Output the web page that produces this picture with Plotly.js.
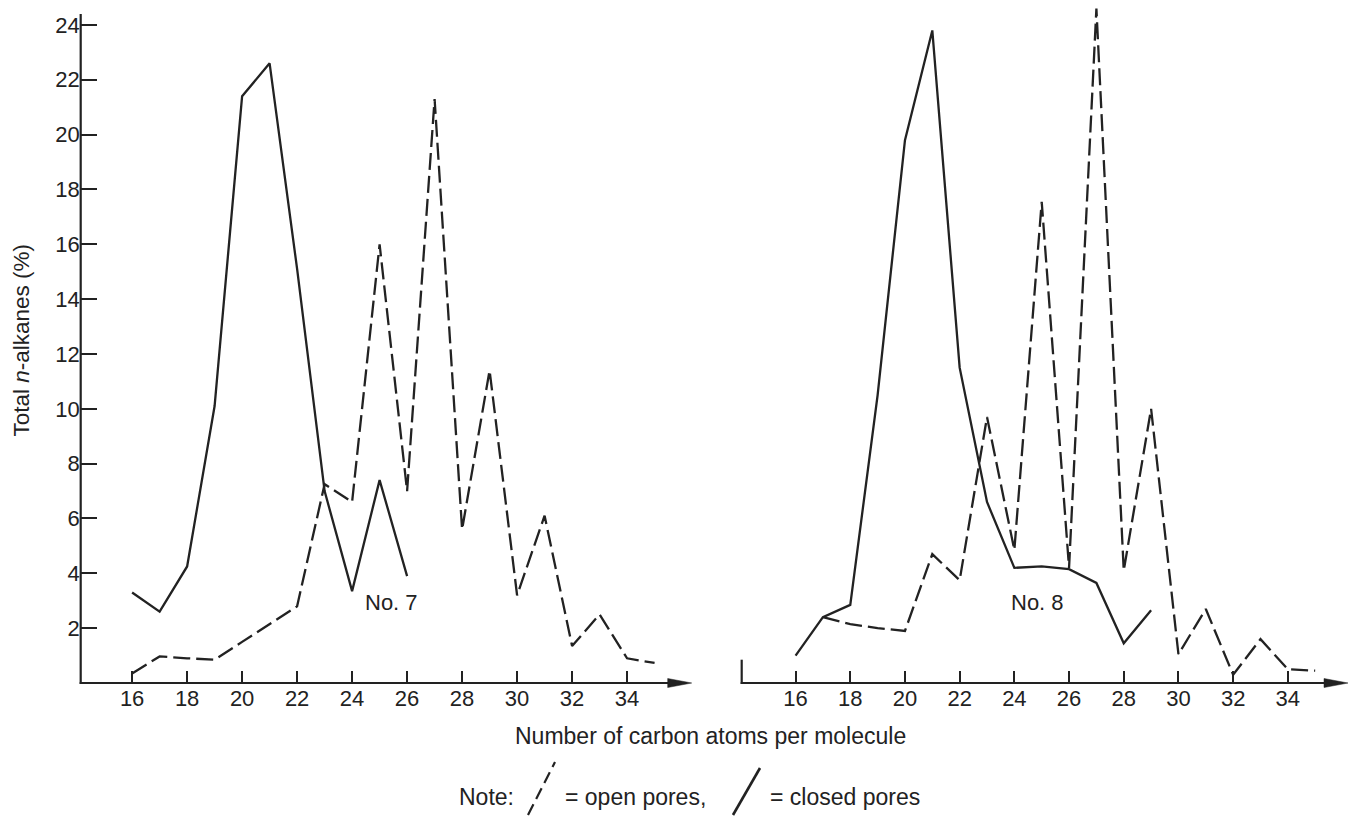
<!DOCTYPE html>
<html>
<head>
<meta charset="utf-8">
<script src="https://cdn.plot.ly/plotly-3.0.1.min.js"></script>
<style>html,body{margin:0;padding:0;background:#fff;}#chart{width:1353px;height:816px;}</style>
</head>
<body>
<div id="chart"></div>
<script>
// ---- data ----
const carbon7Closed = [16, 17, 18, 19, 20, 21, 22, 23, 24, 25, 26];
const pct7Closed    = [3.3, 2.6, 4.25, 10.1, 21.4, 22.6, 15.1, 7.0, 3.35, 7.4, 3.9];
const carbon7Open   = [16, 17, 18, 19, 20, 21, 22, 23, 24, 25, 26, 27, 28, 29, 30, 31, 32, 33, 34, 35];
const pct7Open      = [0.35, 0.97, 0.9, 0.85, 1.5, 2.15, 2.8, 7.25, 6.6, 16.0, 7.0, 21.3, 5.6, 11.4, 3.2, 6.1, 1.35, 2.5, 0.9, 0.73];

const carbon8Closed = [16, 17, 18, 19, 20, 21, 22, 23, 24, 25, 26, 27, 28, 29];
const pct8Closed    = [1.0, 2.4, 2.85, 10.5, 19.8, 23.8, 11.5, 6.6, 4.2, 4.25, 4.15, 3.65, 1.45, 2.65];
const carbon8Open   = [17, 18, 19, 20, 21, 22, 23, 24, 25, 26, 27, 28, 29, 30, 31, 32, 33, 34, 35];
const pct8Open      = [2.4, 2.15, 2.0, 1.9, 4.7, 3.75, 9.7, 4.85, 17.55, 4.2, 24.6, 4.1, 10.0, 1.05, 2.7, 0.3, 1.6, 0.5, 0.45];

const xTickVals = [16, 18, 20, 22, 24, 26, 28, 30, 32, 34];
const xTickText = ['16', '18', '20', '22', '24', '26', '28', '30', '32', '34'];
const yTickVals = [2, 4, 6, 8, 10, 12, 14, 16, 18, 20, 22, 24];
const yTickText = ['2', '4', '6', '8', '10', '12', '14', '16', '18', '20', '22', '24'];

const sampleLabels = ['No. 7', 'No. 8'];
const xTitle = 'Number of carbon atoms per molecule';
const yTitle = 'Total <i>n</i>-alkanes (%)';
const noteTexts = ['Note:', '= open pores,', '= closed pores'];

// ---- styling / layout ----
const W = 1353, H = 816;
const INK = '#222222';
const FONT = 'Liberation Sans, Arial, sans-serif';
const px = v => v / W;
const py = v => 1 - v / H;

// plot-area geometry in pixels
const LEFT_PX = [80.7, 691.7], RIGHT_PX = [741.7, 1348];
const BASE_PX = 683, TOP_PX = 3;
const X1 = [14.13, 36.35], X2 = [14.03, 36.2];
const YR = [0, 24.8];
const yPx = v => BASE_PX - (v - YR[0]) * (BASE_PX - TOP_PX) / (YR[1] - YR[0]);

const solid = {color: INK, width: 2.3};
const dashed = {color: INK, width: 2.3, dash: '17px,6px'};

const traces = [
  {x: carbon7Closed, y: pct7Closed, xaxis: 'x', yaxis: 'y', mode: 'lines', line: solid, cliponaxis: false},
  {x: carbon7Open, y: pct7Open, xaxis: 'x', yaxis: 'y', mode: 'lines', line: dashed, cliponaxis: false},
  {x: carbon8Closed, y: pct8Closed, xaxis: 'x2', yaxis: 'y2', mode: 'lines', line: solid, cliponaxis: false},
  {x: carbon8Open, y: pct8Open, xaxis: 'x2', yaxis: 'y2', mode: 'lines', line: dashed, cliponaxis: false}
];

const xCommon = {
  showgrid: false, zeroline: false, showline: false,
  ticks: 'inside', ticklen: 12, tickwidth: 2, tickcolor: INK,
  tickvals: xTickVals, ticktext: xTickText,
  tickfont: {family: FONT, size: 22, color: INK}, fixedrange: true
};
const yCommon = {
  range: YR, showgrid: false, zeroline: false, showline: false,
  domain: [py(BASE_PX), py(TOP_PX)], fixedrange: true
};

// axis decorations (drawn in paper coordinates so they are not clipped)
function axisShapes(xPx, yTopVal) {
  const x0 = xPx[0], tip = xPx[1];
  const s = [];
  s.push({type: 'line', xref: 'paper', yref: 'paper', x0: px(x0), x1: px(x0), y0: py(BASE_PX + 1), y1: py(yPx(yTopVal)),
          line: {color: INK, width: 2.2}});
  s.push({type: 'line', xref: 'paper', yref: 'paper', x0: px(x0 - 1), x1: px(tip - 12), y0: py(BASE_PX), y1: py(BASE_PX),
          line: {color: INK, width: 2.2}});
  s.push({type: 'path', xref: 'paper', yref: 'paper',
          path: 'M' + px(tip) + ',' + py(BASE_PX) + ' L' + px(tip - 24) + ',' + py(BASE_PX - 4.5) +
                ' L' + px(tip - 24) + ',' + py(BASE_PX + 4.5) + ' Z',
          fillcolor: INK, line: {color: INK, width: 0.5}});
  return s;
}

const shapes = [].concat(
  axisShapes(LEFT_PX, 24.4),
  axisShapes(RIGHT_PX, 0.85),
  [
    {type: 'line', xref: 'paper', yref: 'paper', x0: px(528), y0: py(815), x1: px(555), y1: py(762),
     line: {color: INK, width: 2.2, dash: '12px,6px'}},
    {type: 'line', xref: 'paper', yref: 'paper', x0: px(733), y0: py(815), x1: px(760), y1: py(768),
     line: {color: INK, width: 2.6}}
  ]
);

const TF = {family: FONT, size: 23, color: INK};

const layout = {
  width: W, height: H,
  margin: {l: 0, r: 0, t: 0, b: 0},
  paper_bgcolor: '#ffffff', plot_bgcolor: 'rgba(0,0,0,0)',
  showlegend: false,
  font: {family: FONT, color: INK},
  xaxis: Object.assign({}, xCommon, {range: X1, domain: [px(LEFT_PX[0]), px(LEFT_PX[1])], anchor: 'y'}),
  xaxis2: Object.assign({}, xCommon, {range: X2, domain: [px(RIGHT_PX[0]), px(RIGHT_PX[1])], anchor: 'y2'}),
  yaxis: Object.assign({}, yCommon, {
    anchor: 'x', ticks: 'inside', ticklen: 16, tickwidth: 2, tickcolor: INK,
    tickvals: yTickVals, ticktext: yTickText,
    tickfont: {family: FONT, size: 22, color: INK}
  }),
  yaxis2: Object.assign({}, yCommon, {anchor: 'x2', showticklabels: false, ticks: ''}),
  shapes: shapes,
  annotations: [
    {text: sampleLabels[0], xref: 'x', yref: 'y', x: 25.45, y: 2.93, showarrow: false,
     font: {family: FONT, size: 22, color: INK}},
    {text: sampleLabels[1], xref: 'x2', yref: 'y2', x: 24.84, y: 2.93, showarrow: false,
     font: {family: FONT, size: 22, color: INK}},
    {text: yTitle, xref: 'paper', yref: 'paper', x: px(21), y: py(340.5), textangle: -90, showarrow: false,
     xanchor: 'center', yanchor: 'middle', font: {family: FONT, size: 22.5, color: INK}},
    {text: xTitle, xref: 'paper', yref: 'paper', x: px(513), y: py(736), showarrow: false,
     xanchor: 'left', yanchor: 'middle', font: TF},
    {text: noteTexts[0], xref: 'paper', yref: 'paper', x: px(457), y: py(797), showarrow: false,
     xanchor: 'left', yanchor: 'middle', font: TF},
    {text: noteTexts[1], xref: 'paper', yref: 'paper', x: px(563), y: py(797), showarrow: false,
     xanchor: 'left', yanchor: 'middle', font: TF},
    {text: noteTexts[2], xref: 'paper', yref: 'paper', x: px(768), y: py(797), showarrow: false,
     xanchor: 'left', yanchor: 'middle', font: TF}
  ]
};

Plotly.newPlot('chart', traces, layout, {displayModeBar: false, staticPlot: true});
</script>
</body>
</html>
